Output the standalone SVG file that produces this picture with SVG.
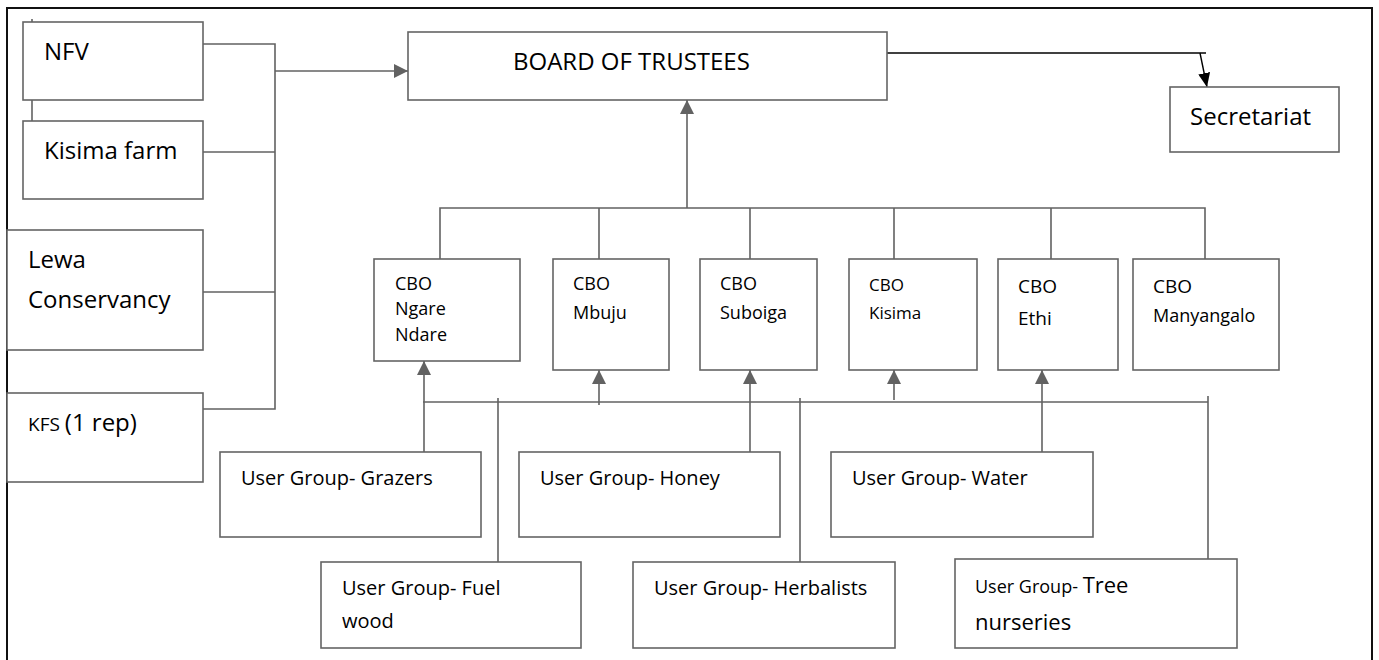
<svg xmlns="http://www.w3.org/2000/svg" width="1379" height="660" viewBox="0 0 1379 660">
<style>
.box{fill:#fff;stroke:#646464;stroke-width:1.6}
.ln{fill:none;stroke:#626262;stroke-width:1.6}
.bk{fill:none;stroke:#000;stroke-width:1.4}
text{font-family:"Open Sans","Liberation Sans",sans-serif;fill:#000}
.t24{font-size:24px}
.t20{font-size:20px}
.t18{font-size:18px}
</style>
<defs>
<marker id="ag" markerUnits="userSpaceOnUse" markerWidth="14" markerHeight="14" refX="14" refY="7" orient="auto">
<path d="M0,0 L14,7 L0,14 z" fill="#626262"/>
</marker>
<marker id="ab" markerUnits="userSpaceOnUse" markerWidth="14" markerHeight="12" refX="14" refY="6" orient="auto">
<path d="M0,0 L14,6 L0,12 z" fill="#000"/>
</marker>
</defs>
<rect width="1379" height="660" fill="#fff"/>
<path d="M7,662 V8 H1372 V662" fill="none" stroke="#111" stroke-width="2"/>
<g id="connectors">
<line class="ln" x1="32" y1="19" x2="32" y2="121" stroke-width="1"/>
<path class="ln" d="M203,44 H275 V409 H203"/>
<line class="ln" x1="203" y1="152" x2="275" y2="152"/>
<line class="ln" x1="203" y1="292" x2="275" y2="292"/>
<line class="ln" x1="275" y1="71" x2="408" y2="71" marker-end="url(#ag)"/>
<path class="bk" d="M887,53 H1206"/>
<line class="bk" x1="1200" y1="53" x2="1207" y2="87" marker-end="url(#ab)"/>
<line class="ln" x1="687" y1="208" x2="687" y2="100" marker-end="url(#ag)"/>
<path class="ln" d="M440,259 V208 H1205 V259 M599,208 V259 M750,208 V259 M894,208 V259 M1051,208 V259"/>
<line class="ln" x1="423" y1="402" x2="1208" y2="402"/>
<line class="ln" x1="424" y1="452" x2="424" y2="361" marker-end="url(#ag)"/>
<line class="ln" x1="599" y1="405" x2="599" y2="370" marker-end="url(#ag)"/>
<line class="ln" x1="750" y1="452" x2="750" y2="370" marker-end="url(#ag)"/>
<line class="ln" x1="894" y1="400" x2="894" y2="370" marker-end="url(#ag)"/>
<line class="ln" x1="1042" y1="452" x2="1042" y2="370" marker-end="url(#ag)"/>
<line class="ln" x1="498" y1="398" x2="498" y2="562"/>
<line class="ln" x1="800" y1="398" x2="800" y2="562"/>
<line class="ln" x1="1208" y1="396" x2="1208" y2="559"/>
</g>
<g id="nfv"><rect class="box" x="23" y="22" width="180" height="78"/><text class="t24" x="44" y="60">NFV</text></g>
<g id="kisima-farm"><rect class="box" x="23" y="121" width="180" height="78"/><text class="t24" x="44" y="159">Kisima farm</text></g>
<g id="lewa"><rect class="box" x="7" y="230" width="196" height="120"/><text class="t24" x="28" y="268">Lewa</text><text class="t24" x="28" y="308">Conservancy</text></g>
<g id="kfs"><rect class="box" x="7" y="393" width="196" height="89"/><text x="28" y="431"><tspan style="font-size:19px">KFS </tspan><tspan class="t24">(1 rep)</tspan></text></g>
<g id="board"><rect class="box" x="408" y="32" width="479" height="68"/><text class="t24" x="513" y="70">BOARD OF TRUSTEES</text></g>
<g id="secretariat"><rect class="box" x="1170" y="87" width="169" height="65"/><text class="t24" x="1190" y="125">Secretariat</text></g>
<g id="cbo-ngare"><rect class="box" x="374" y="259" width="146" height="102"/><text class="t18" x="395" y="290">CBO</text><text class="t18" x="395" y="315">Ngare</text><text class="t18" x="395" y="341">Ndare</text></g>
<g id="cbo-mbuju"><rect class="box" x="553" y="259" width="116" height="111"/><text class="t18" x="573" y="290">CBO</text><text class="t18" x="573" y="319">Mbuju</text></g>
<g id="cbo-suboiga"><rect class="box" x="700" y="259" width="117" height="111"/><text class="t18" x="720" y="290">CBO</text><text class="t18" x="720" y="319">Suboiga</text></g>
<g id="cbo-kisima"><rect class="box" x="849" y="259" width="128" height="111"/><text style="font-size:17px" x="869" y="291">CBO</text><text style="font-size:17px" x="869" y="319">Kisima</text></g>
<g id="cbo-ethi"><rect class="box" x="998" y="259" width="120" height="111"/><text style="font-size:19px" x="1018" y="293">CBO</text><text style="font-size:19px" x="1018" y="325">Ethi</text></g>
<g id="cbo-manyangalo"><rect class="box" x="1133" y="259" width="146" height="111"/><text style="font-size:19px" x="1153" y="293">CBO</text><text class="t18" x="1153" y="322">Manyangalo</text></g>
<g id="ug-grazers"><rect class="box" x="220" y="452" width="261" height="85"/><text class="t20" x="241" y="485">User Group- Grazers</text></g>
<g id="ug-honey"><rect class="box" x="519" y="452" width="261" height="85"/><text class="t20" x="540" y="485">User Group- Honey</text></g>
<g id="ug-water"><rect class="box" x="831" y="452" width="262" height="85"/><text class="t20" x="852" y="485">User Group- Water</text></g>
<g id="ug-fuelwood"><rect class="box" x="321" y="562" width="260" height="86"/><text class="t20" x="342" y="595">User Group- Fuel</text><text class="t20" x="342" y="628">wood</text></g>
<g id="ug-herbalists"><rect class="box" x="633" y="562" width="262" height="86"/><text class="t20" x="654" y="595">User Group- Herbalists</text></g>
<g id="ug-tree"><rect class="box" x="955" y="559" width="282" height="89"/><text x="975" y="593"><tspan class="t18">User Group- </tspan><tspan style="font-size:22px">Tree</tspan></text><text style="font-size:22px" x="975" y="630">nurseries</text></g>
</svg>
